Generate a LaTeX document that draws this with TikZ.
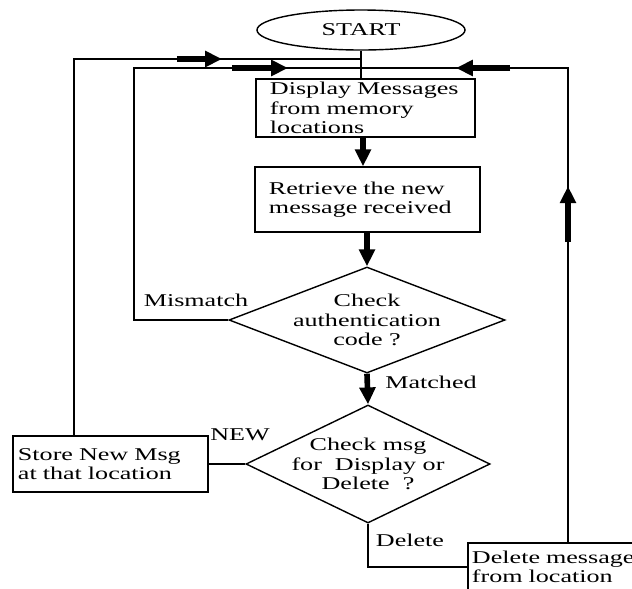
\documentclass[tikz,border=0pt]{standalone}
\usepackage{fontspec}
\setmainfont[FakeStretch=1.45]{Liberation Serif}
\usetikzlibrary{shapes.geometric,arrows.meta,decorations.markings}
\tikzset{
    flow-text/.style = {font=\fontsize{12.8}{13.8}\selectfont},
    flow-box/.style = {draw, line width=1pt, rectangle, flow-text, align=left, inner ysep=0pt},
    flow-start/.style = {draw, line width=1pt, ellipse, flow-text, minimum width=5.2cm, minimum height=1cm},
    flow-decision/.style = {draw, line width=1pt, diamond, inner sep=0pt},
    flow-label/.style = {flow-text, inner sep=0pt},
    fat-arrow/.style = {line width=4pt, -{Triangle[length=12pt, width=11pt]}},
}

\begin{document}
\begin{tikzpicture}[x=0.025cm, y=-0.025cm, line width=1pt]
\useasboundingbox (0,0) rectangle (632,588);
\clip (0,0) rectangle (632,588);
\node[flow-start] (start) at (361,30) {START};
\node[flow-box, minimum width=5.475cm, minimum height=1.45cm, text width=4.775cm, inner xsep=0.35cm]
    (display) at (365.5,108) {Display Messages\\from memory\\locations};
\node[flow-box, minimum width=5.625cm, minimum height=1.625cm, text width=4.925cm, inner xsep=0.35cm]
    (retrieve) at (367.5,199.5) {Retrieve the new\\message received};
\node[flow-decision, minimum width=6.9cm, minimum height=2.65cm] (auth) at (367,320) {};
\node[flow-label, align=center] (auth-text) at (auth) {Check\\authentication\\code ?};
\node[flow-decision, minimum width=6.1cm, minimum height=2.95cm] (choice) at (368,464) {};
\node[flow-label, align=center] (choice-text) at (choice) {Check msg\\for~ Display or\\Delete~ ?};
\node[flow-box, minimum width=4.875cm, minimum height=1.4cm, text width=4.625cm, inner xsep=0.125cm]
    (store) at (110.5,464) {Store New Msg\\at that location};
\node[flow-box, minimum width=5cm, minimum height=1.2cm, text width=4.8cm, inner xsep=0.1cm]
    (delete) at (568,567) {Delete message\\from location};

% labels on the branches
\node[flow-label] (mismatch) at (196,300) {Mismatch};
\node[flow-label] (matched) at (431,382) {Matched};
\node[flow-label] (new) at (240,435) {NEW};
\node[flow-label] (delete-label) at (410,540) {Delete};

\coordinate (join-a) at (361,59);
\coordinate (join-b) at (361,68);
\coordinate (turn-b) at (134,68);

% return lines to the top
\draw (start.south) -- (start.south |- display.north);
\draw[postaction={decorate}, decoration={markings,
    mark=at position -3.475cm with {\draw[fat-arrow] (-1.125cm,0) -- (0,0);}}]
    (store.north -| 74,0) |- (join-a);
\draw[postaction={decorate}, decoration={markings,
    mark=at position -1.825cm with {\draw[fat-arrow] (-1.4cm,0) -- (0,0);}}]
    (auth.west) -| (turn-b) -- (join-b);
\draw[postaction={decorate}, decoration={markings,
    mark=at position 8.9cm with {\draw[fat-arrow] (-1.4cm,0) -- (0,0);},
    mark=at position -2.375cm with {\draw[fat-arrow] (-1.35cm,0) -- (0,0);}}]
    (delete.north) |- (join-b);

% main flow
\draw[fat-arrow] (display.south -| 363,0) -- (retrieve.north -| 363,0);
\draw[fat-arrow] (auth.north |- retrieve.south) -- (auth.north);
\draw[fat-arrow] (auth.south) -- (choice.north);
\draw (choice.west) -- (store.east);
\draw (choice.south) |- (delete.west);
\end{tikzpicture}
\end{document}
